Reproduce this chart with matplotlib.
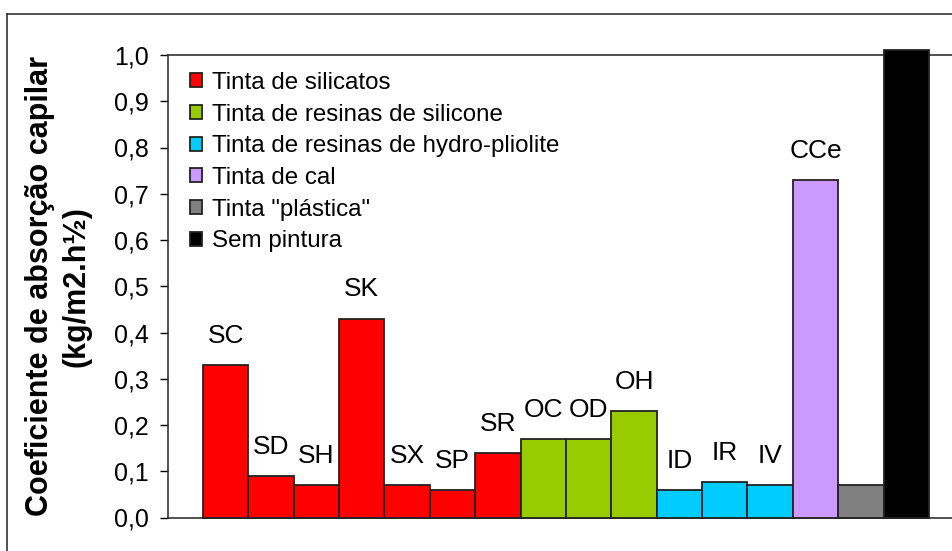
import matplotlib.pyplot as plt
from matplotlib.lines import Line2D
from matplotlib.ticker import FuncFormatter

plt.rcParams['font.family'] = ['Liberation Sans', 'DejaVu Sans']

# dados
nomes = ['SC', 'SD', 'SH', 'SK', 'SX', 'SP', 'SR', 'OC', 'OD', 'OH',
         'ID', 'IR', 'IV', 'CCe', '', '']
valores = [0.33, 0.09, 0.07, 0.43, 0.07, 0.06, 0.14, 0.17, 0.17, 0.23,
           0.06, 0.077, 0.07, 0.73, 0.07, 1.01]
grupos = [0, 0, 0, 0, 0, 0, 0, 1, 1, 1, 2, 2, 2, 3, 4, 5]
legendas = ['Tinta de silicatos', 'Tinta de resinas de silicone',
            'Tinta de resinas de hydro-pliolite', 'Tinta de cal',
            'Tinta "plástica"', 'Sem pintura']
cores = ['#FF0000', '#99CC00', '#00CCFF', '#CC99FF', '#808080', '#000000']

fig = plt.figure(figsize=(9.53, 5.51), dpi=100)
ax = fig.add_axes([168 / 953, 1 - 517.5 / 551, 1 - 168 / 953, (517.5 - 55) / 551])

# moldura exterior
fig.add_artist(Line2D([7 / 953, 7 / 953], [0, 1 - 14 / 551], color='#333333', lw=1.2))
fig.add_artist(Line2D([7 / 953, 1], [1 - 14 / 551, 1 - 14 / 551], color='#333333', lw=1.2))

ja_na_legenda = set()
for i, (v, g) in enumerate(zip(valores, grupos)):
    lab = legendas[g] if g not in ja_na_legenda else None
    ja_na_legenda.add(g)
    ax.bar(i, v, width=1.0, color=cores[g], edgecolor='#222222', linewidth=1.3,
           label=lab, clip_on=False, zorder=3)
    if nomes[i]:
        ax.annotate(nomes[i], (i, v), xytext=(0, 21), textcoords='offset points',
                    ha='center', va='center', fontsize=19)

ax.set_xlim(-1.27, 16.03)
ax.set_ylim(0, 1.0)
ax.set_yticks([i / 10 for i in range(11)])
ax.yaxis.set_major_formatter(FuncFormatter(lambda y, p: f'{y:.1f}'.replace('.', ',')))
ax.tick_params(axis='y', labelsize=18, length=6, width=1, direction='out', pad=8)
ax.set_xticks([])
for s in ax.spines.values():
    s.set_color('#333333')
    s.set_linewidth(1.2)

ax.set_ylabel('Coeficiente de absorção capilar\n(kg/m2.h½)', fontsize=22,
              fontweight='bold', linespacing=1.3)
ax.yaxis.set_label_coords(-0.097, 0.5)

ax.legend(loc='upper left', frameon=False, fontsize=17.4, handlelength=0.5,
          handleheight=0.5, handletextpad=0.4, labelspacing=0.4,
          borderaxespad=0.3, bbox_to_anchor=(0.007, 1.0))

fig.savefig('out.png', dpi=100)
